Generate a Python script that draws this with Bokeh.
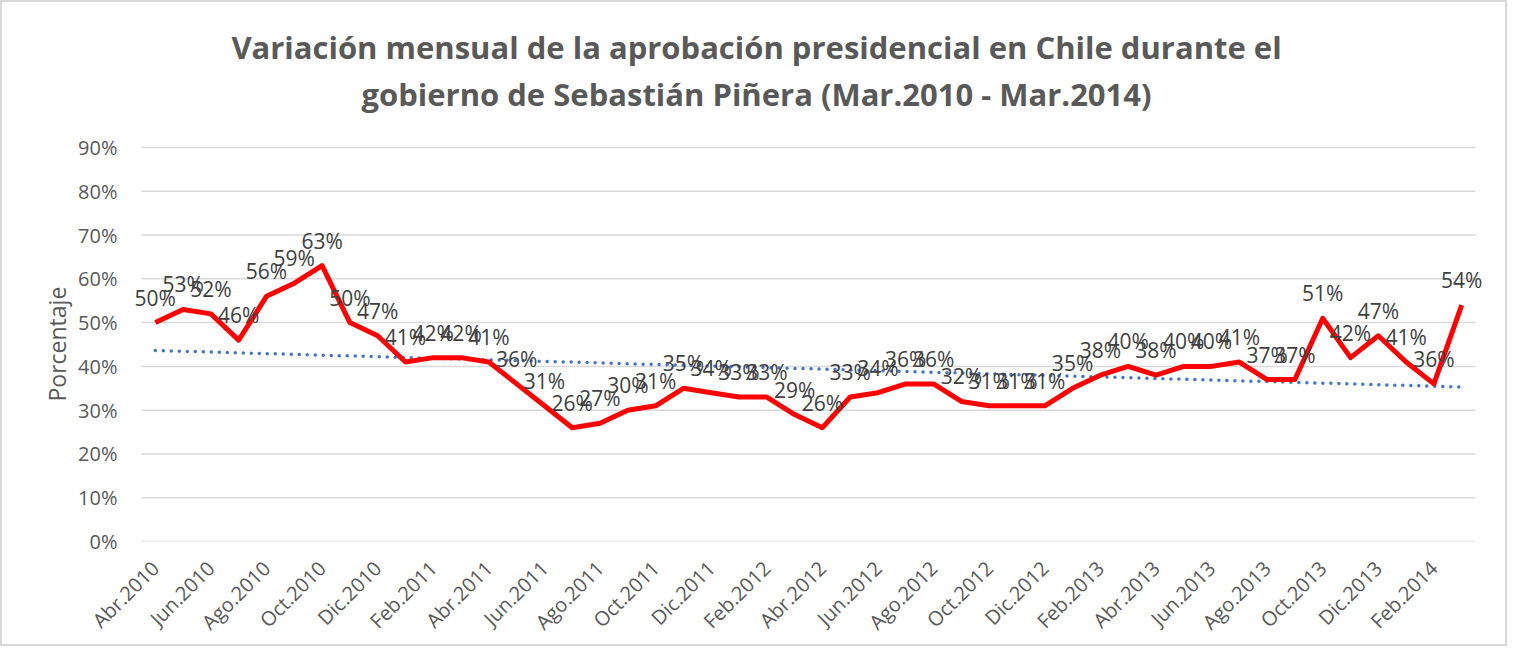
import math
import numpy as np
from bokeh.plotting import figure
from bokeh.models import FixedTicker, Label, Title, ColumnDataSource, NumeralTickFormatter
from bokeh.embed import file_html
from bokeh.resources import INLINE
from bokeh.core.properties import value

months = [
    "Abr.2010", "May.2010", "Jun.2010", "Jul.2010", "Ago.2010", "Sep.2010",
    "Oct.2010", "Nov.2010", "Dic.2010", "Ene.2011", "Feb.2011", "Mar.2011",
    "Abr.2011", "May.2011", "Jun.2011", "Jul.2011", "Ago.2011", "Sep.2011",
    "Oct.2011", "Nov.2011", "Dic.2011", "Ene.2012", "Feb.2012", "Mar.2012",
    "Abr.2012", "May.2012", "Jun.2012", "Jul.2012", "Ago.2012", "Sep.2012",
    "Oct.2012", "Nov.2012", "Dic.2012", "Ene.2013", "Feb.2013", "Mar.2013",
    "Abr.2013", "May.2013", "Jun.2013", "Jul.2013", "Ago.2013", "Sep.2013",
    "Oct.2013", "Nov.2013", "Dic.2013", "Ene.2014", "Feb.2014", "Mar.2014",
]
approval_pct = [
    50, 53, 52, 46, 56, 59, 63, 50, 47, 41, 42, 42,
    41, 36, 31, 26, 27, 30, 31, 35, 34, 33, 33, 29,
    26, 33, 34, 36, 36, 32, 31, 31, 31, 35, 38, 40,
    38, 40, 40, 41, 37, 37, 51, 42, 47, 41, 36, 54,
]
y_ticks = [0.0, 0.1, 0.2, 0.3, 0.4, 0.5, 0.6, 0.7, 0.8, 0.9]
title_lines = [
    "Variación mensual de la aprobación presidencial en Chile durante el",
    "gobierno de Sebastián Piñera (Mar.2010 - Mar.2014)",
]
y_label = "Porcentaje"

FONT = "Open Sans"
GREY = "#595959"

n = len(months)
idx = list(range(n))
vals = [v / 100 for v in approval_pct]
labels = [f"{v}%" for v in approval_pct]

# linear trendline (least squares) from the data
coef = np.polyfit(np.array(idx, dtype=float), np.array(vals), 1)
trend = list(np.polyval(coef, np.array(idx, dtype=float)))

src = ColumnDataSource(dict(x=idx, y=vals, lab=labels, trend=trend))

# layout (pixels): the frame reaches up to the top of the figure so that the
# title can be drawn inside it; the value axis keeps a 394px span for 0..90%
W, H = 1507, 646
B_LEFT, B_RIGHT, B_TOP, B_BOTTOM = 125, 20, 5, 107
PLOT_SPAN = 394
frame_h = H - B_TOP - B_BOTTOM
y_end = y_ticks[-1] * frame_h / PLOT_SPAN

p = figure(
    width=W, height=H,
    x_range=(-1.0, n), y_range=(0, y_end),
    output_backend="svg", toolbar_location=None,
    min_border_left=B_LEFT, min_border_right=B_RIGHT,
    min_border_top=B_TOP, min_border_bottom=B_BOTTOM,
)
p.title = None
p.outline_line_color = None
p.background_fill_color = "white"
p.border_fill_color = "white"
p.styles = {"border": "2px solid #D9D9D9"}

# title lines (screen units relative to the frame's bottom-left corner)
for line, ys in zip(title_lines, [495, 448]):
    p.add_layout(Label(x=629, y=ys, x_units="screen", y_units="screen",
                       text=line, text_align="center", text_baseline="alphabetic",
                       text_font=FONT, text_font_size="31px", text_font_style="bold",
                       text_color=GREY))

# value-axis title, placed along the 0..90% span
p.add_layout(Title(text=y_label, align="left", offset=140, standoff=6,
                   text_font=FONT, text_font_size="23px",
                   text_font_style="normal", text_color=GREY), "left")

# axes
p.xaxis.ticker = FixedTicker(ticks=idx[::2])
p.xaxis.major_label_overrides = {i: months[i] for i in idx[::2]}
p.xaxis.major_label_orientation = math.pi / 4
p.xaxis.major_label_text_font = FONT
p.xaxis.major_label_text_font_size = "20px"
p.xaxis.major_label_text_color = GREY
p.xaxis.major_label_standoff = 17
p.xaxis.axis_line_color = None
p.xaxis.major_tick_line_color = None
p.xaxis.minor_tick_line_color = None

p.yaxis.ticker = FixedTicker(ticks=y_ticks)
p.yaxis.formatter = NumeralTickFormatter(format="0%")
p.yaxis.major_label_text_font = FONT
p.yaxis.major_label_text_font_size = "20px"
p.yaxis.major_label_text_color = GREY
p.yaxis.major_label_standoff = 4
p.yaxis.axis_line_color = None
p.yaxis.major_tick_line_color = None
p.yaxis.minor_tick_line_color = None

p.xgrid.grid_line_color = None
p.ygrid.grid_line_color = None
p.segment(x0=[-0.5] * len(y_ticks), x1=[n - 0.5] * len(y_ticks),
          y0=y_ticks, y1=y_ticks, line_color="#D9D9D9", line_width=1.5)

# trendline
p.line("x", "trend", source=src, line_color="#4472C4", line_width=3.5,
       line_dash="0 8", line_cap="round")
# series
p.line("x", "y", source=src, line_color="#FF0000", line_width=5,
       line_join="round")
# data labels
p.text("x", "y", text="lab", source=src, text_align="center",
       text_baseline="alphabetic", y_offset=-25,
       text_font=value(FONT), text_font_size="21px", text_color="#404040")

open("out.html", "w").write(file_html(p, INLINE))
